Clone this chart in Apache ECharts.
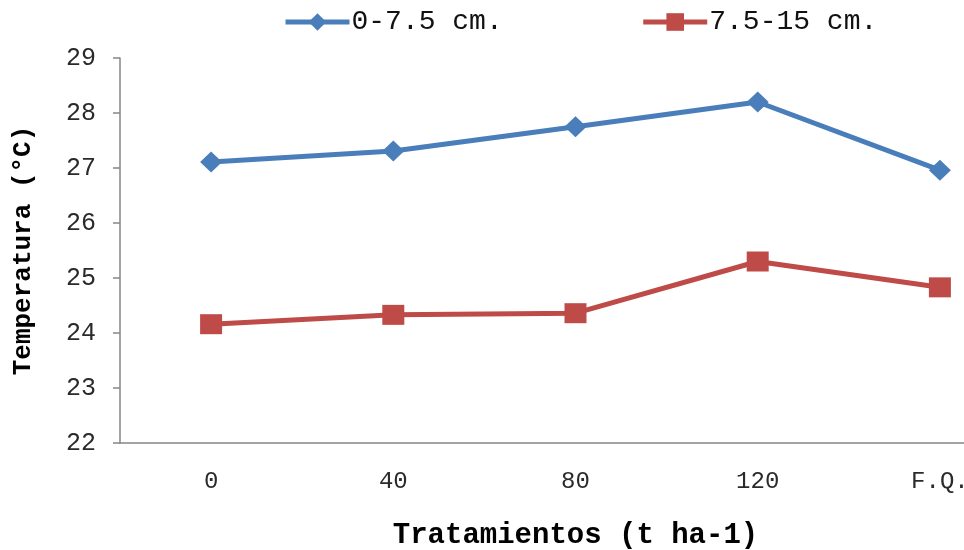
<!DOCTYPE html>
<html>
<head>
<meta charset="utf-8">
<script src="https://cdn.jsdelivr.net/npm/echarts@6/dist/echarts.min.js"></script>
<style>
  html, body { margin: 0; padding: 0; background: #fff; }
  #chart { width: 964px; height: 550px; }
</style>
</head>
<body>
<div id="chart"></div>
<script>
// Treatment categories (t ha-1) and mean soil temperature (°C) per depth
const categories = ['0', '40', '80', '120', 'F.Q.'];
const depthShallow = [27.11, 27.31, 27.75, 28.20, 26.96];   // 0-7.5 cm.
const depthDeep = [24.16, 24.33, 24.36, 25.30, 24.83];      // 7.5-15 cm.
const seriesNames = ['0-7.5 cm.', '7.5-15 cm.'];

const BLUE = '#4a7ebb';
const RED = '#be4b48';
const MONO = '"Liberation Mono", "Courier New", monospace';
const chart = echarts.init(document.getElementById('chart'));

chart.setOption({
  animation: false,
  backgroundColor: '#ffffff',
  legend: {
    top: 8,
    left: 283,
    padding: 0,
    itemWidth: 64,
    itemHeight: 22,
    itemGap: 138,
    textStyle: { fontFamily: MONO, fontSize: 28, color: '#111', padding: [0, 0, 0, -3] },
    data: [
      { name: seriesNames[0], lineStyle: { width: 5, color: BLUE } },
      { name: seriesNames[1], lineStyle: { width: 5, color: RED } }
    ]
  },
  // the last category band runs past the right edge of the canvas
  grid: { left: 120, top: 58, width: 911, height: 385, outerBoundsMode: 'none', containLabel: false },
  xAxis: {
    type: 'category',
    data: categories,
    boundaryGap: true,
    name: 'Tratamientos (t ha-1)',
    nameLocation: 'middle',
    nameGap: 78,
    nameTextStyle: { fontFamily: MONO, fontSize: 29, fontWeight: 'bold', color: '#000' },
    axisLine: { lineStyle: { color: '#868686', width: 1.5 } },
    axisTick: { show: false },
    axisLabel: { fontFamily: MONO, fontSize: 24, color: '#2a2a2a', margin: 27 }
  },
  yAxis: {
    type: 'value',
    min: 22,
    max: 29,
    interval: 1,
    name: 'Temperatura (°C)',
    nameLocation: 'middle',
    nameGap: 84,
    nameTextStyle: { fontFamily: MONO, fontSize: 26, fontWeight: 'bold', color: '#000' },
    axisLine: { show: true, lineStyle: { color: '#868686', width: 1.5 } },
    axisTick: { show: true, inside: false, length: 7, lineStyle: { color: '#868686', width: 1.5 } },
    splitLine: { show: false },
    axisLabel: { fontFamily: MONO, fontSize: 25, color: '#2a2a2a', margin: 24 }
  },
  series: [
    {
      name: seriesNames[0],
      type: 'line',
      data: depthShallow,
      symbol: 'diamond',
      symbolSize: [22, 21],
      lineStyle: { color: BLUE, width: 5 },
      itemStyle: { color: BLUE }
    },
    {
      name: seriesNames[1],
      type: 'line',
      data: depthDeep,
      symbol: 'rect',
      symbolSize: [22, 20],
      lineStyle: { color: RED, width: 5 },
      itemStyle: { color: RED }
    }
  ]
});
</script>
</body>
</html>
